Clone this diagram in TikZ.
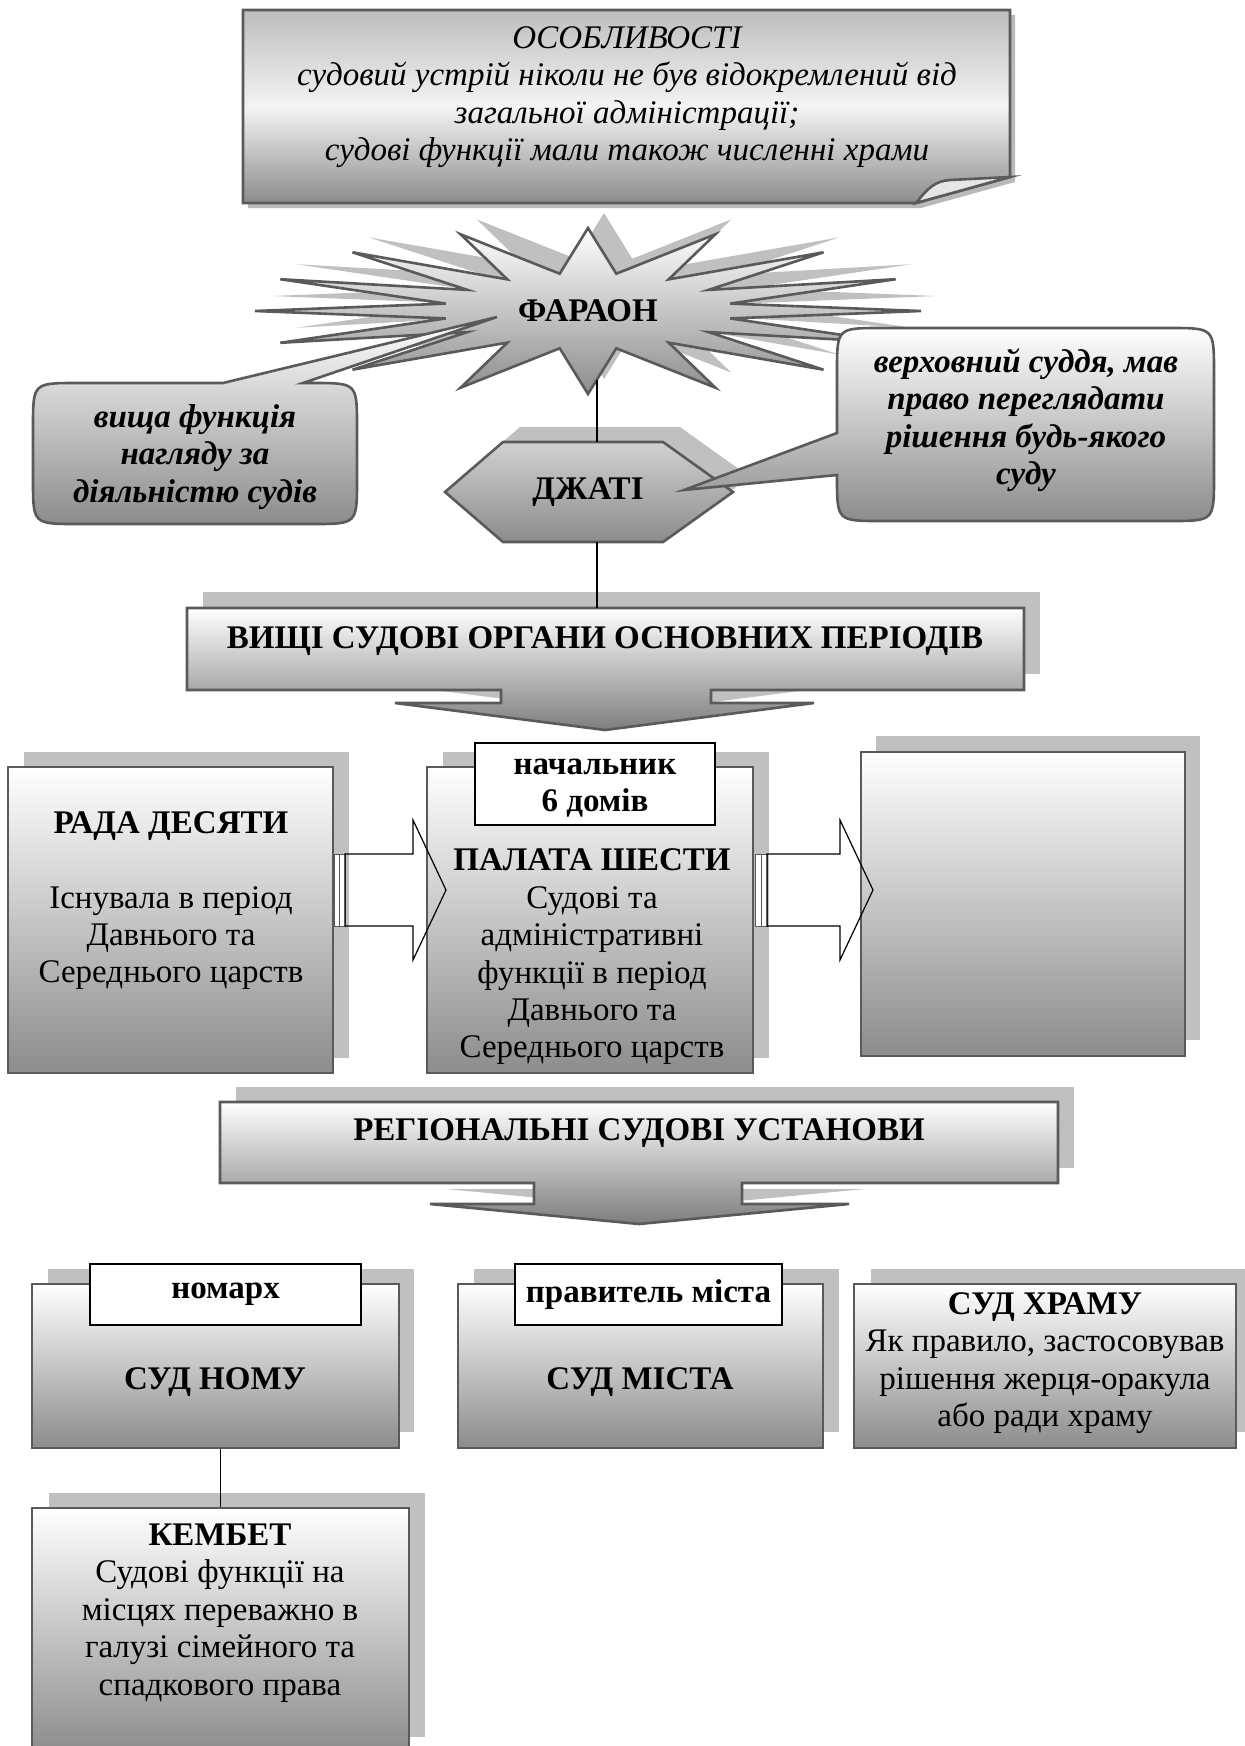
\documentclass[tikz,border=0pt]{standalone}
\usepackage{fontspec}
\setmainfont{Liberation Serif}
\usetikzlibrary{fit}
\definecolor{edge}{HTML}{5A5A5A}
\definecolor{shad}{HTML}{C0C0C0}
\definecolor{gbot}{HTML}{8C8C8C}
\definecolor{gmid}{HTML}{F4F4F4}
\definecolor{gtopd}{HTML}{BDBDBD}
\definecolor{foldc}{HTML}{E6E6E6}
\newcommand{\fs}{\fontsize{16.5pt}{18.7pt}\selectfont}
\tikzset{
  outl/.style={draw=edge, line width=1.3pt},
  grad/.style={top color=white, bottom color=gbot},
  gradmid/.style={top color=gtopd, bottom color=gbot, middle color=gmid},
  shadowfill/.style={fill=shad, draw=none},
  labelbox/.style={draw=black, fill=white, line width=0.7pt, inner sep=0pt},
  conn/.style={draw=black, line width=0.7pt},
  blockarrow/.style={draw=black, line width=0.6pt},
  stripe/.style={draw=gray!70!black, line width=0.45pt, fill=white},
  txt/.style={font=\fs, align=center, inner sep=0pt},
  btxt/.style={font=\fs\bfseries, align=center, inner sep=0pt},
  itxt/.style={font=\fs\itshape, align=center, inner sep=0pt},
  bitxt/.style={font=\fs\bfseries\itshape, align=center, inner sep=0pt},
  boxnode/.style={inner sep=0pt, outl, grad},
}
\begin{document}
\begin{tikzpicture}[x=0.5pt,y=-0.5pt]
\useasboundingbox (0,0) rectangle (1245,1746);

% ---------- top box with folded corner ----------
\fill[gray!55, shift={(5,5)}] (243,10) -- (1010,10) -- (1010,177) -- (916,203) -- (243,203) -- cycle;
\path[outl, gradmid] (243,10) -- (1010,10) -- (1010,177) -- (916,203) -- (243,203) -- cycle;
\path[outl, fill=foldc] (916,203) .. controls (928,188) and (935,181) .. (950,180) -- (1010,177) -- cycle;
\node[itxt] (osob) at (627,97) {ОСОБЛИВОСТІ\\судовий устрій ніколи не був відокремлений від\\загальної адміністрації;\\судові функції мали також численні храми};

% ---------- star (shadow + star) ----------
\fill[shad, shift={(604,296)}] (333,0) -- (142.2,-7.4) -- (307.7,-31.8) -- (120.6,-21.1) -- (235.5,-58.7) -- (80.6,-31.6) -- (127.4,-76.7) -- (28.3,-37.3) -- (0,-83) -- (-28.3,-37.3) -- (-127.4,-76.7) -- (-80.6,-31.6) -- (-235.5,-58.7) -- (-120.6,-21.1) -- (-307.7,-31.8) -- (-142.2,-7.4) -- (-333,0) -- (-142.2,7.4) -- (-307.7,31.8) -- (-120.6,21.1) -- (-235.5,58.7) -- (-80.6,31.6) -- (-127.4,76.7) -- (-28.3,37.3) -- (0,83) -- (28.3,37.3) -- (127.4,76.7) -- (80.6,31.6) -- (235.5,58.7) -- (120.6,21.1) -- (307.7,31.8) -- (142.2,7.4) -- cycle;
\path[outl, grad, shift={(588,311)}] (333,0) -- (142.2,-7.4) -- (307.7,-31.8) -- (120.6,-21.1) -- (235.5,-58.7) -- (80.6,-31.6) -- (127.4,-76.7) -- (28.3,-37.3) -- (0,-83) -- (-28.3,-37.3) -- (-127.4,-76.7) -- (-80.6,-31.6) -- (-235.5,-58.7) -- (-120.6,-21.1) -- (-307.7,-31.8) -- (-142.2,-7.4) -- (-333,0) -- (-142.2,7.4) -- (-307.7,31.8) -- (-120.6,21.1) -- (-235.5,58.7) -- (-80.6,31.6) -- (-127.4,76.7) -- (-28.3,37.3) -- (0,83) -- (28.3,37.3) -- (127.4,76.7) -- (80.6,31.6) -- (235.5,58.7) -- (120.6,21.1) -- (307.7,31.8) -- (142.2,7.4) -- cycle;
\node[btxt] (faraon) at (588,311) {ФАРАОН};
\coordinate (farb) at (597,380);

% ---------- ДЖАТІ hexagon ----------
\fill[shad, shift={(17,-15)}] (445,492) -- (503,442) -- (663,442) -- (733,492) -- (663,542) -- (503,542) -- cycle;
\path[outl, top color=gtopd!70!white, middle color=white, bottom color=gbot] (445,492) -- (503,442) -- (663,442) -- (733,492) -- (663,542) -- (503,542) -- cycle;
\node[btxt] (djati) at (588,492) {ДЖАТІ};
\coordinate (djt) at (597,442);
\coordinate (djb) at (597,542);
\draw[conn] (farb) -- (djt);

% ---------- left callout ----------
\path[outl, grad] (303,383) -- (497,317) -- (223,383) -- (77,383) .. controls (33,383) .. (33,427) -- (33,480) .. controls (33,524) .. (77,524) -- (313,524) .. controls (357,524) .. (357,480) -- (357,427) .. controls (357,383) .. (313,383) -- cycle;
\node[bitxt] (leftcall) at (195,457) {вища функція\\нагляду за\\діяльністю судів};

% ---------- right callout ----------
\path[outl, grad] (837,475) -- (684,490) -- (837,433) -- (837,372) .. controls (837,328) .. (881,328) -- (1170,328) .. controls (1214,328) .. (1214,372) -- (1214,477) .. controls (1214,521) .. (1170,521) -- (881,521) .. controls (837,521) .. (837,477) -- cycle;
\node[bitxt] (rightcall) at (1026,420) {верховний суддя, мав\\право переглядати\\рішення будь-якого\\суду};

% ---------- ВИЩІ СУДОВІ ОРГАНИ ----------
\fill[shad] (203,592) rectangle (1040,674);
\fill[shad] (411,687) -- (830,687) -- (621,714) -- cycle;
\path[outl, top color=white, bottom color=gbot!90!black] (187,608) -- (1024,608) -- (1024,690) -- (711,690) -- (711,703) -- (814,703) -- (605,730) -- (395,703) -- (501,703) -- (501,690) -- (187,690) -- cycle;
\node[btxt] (vyshchi) at (605,641) {ВИЩІ СУДОВІ ОРГАНИ ОСНОВНИХ ПЕРІОДІВ};
\coordinate (vyt) at (597,608);
\draw[conn] (djb) -- (vyt);

% ---------- row of three ----------
\fill[shad] (24,752) rectangle (349,1058);
\fill[shad] (443,752) rectangle (769,1058);
\fill[shad] (876,736) rectangle (1200,1040);
\node[boxnode, fit={(8,767) (333,1073)}] (rada) {};
\node[boxnode, fit={(427,767) (753,1073)}] (palata) {};
\node[boxnode, fit={(861,752) (1185,1056)}] (empty) {};
\node[labelbox, fit={(475,743) (715,825)}] (nachbox) {};
\node[btxt] (nach) at ([yshift=-2pt]nachbox.center) {начальник\\6 домів};
\node[btxt] (radat) at (171,826) {РАДА ДЕСЯТИ};
\node[txt] (radab) at (171,938) {Існувала в період\\Давнього та\\Середнього царств};
\node[txt] (palatat) at (592,957) {\bfseries ПАЛАТА ШЕСТИ\\Судові та\\адміністративні\\функції в період\\Давнього та\\Середнього царств};

% striped block arrows
\path[stripe] (334,854) rectangle (345,926);
\draw[stripe] (339.5,854) -- (339.5,926);
\draw[blockarrow] (345,854) -- (413,854) -- (413,820) -- (446,890) -- (413,960) -- (413,926) -- (345,926) -- cycle;
\path[stripe] (755,854) rectangle (767,926);
\draw[stripe] (761,854) -- (761,926);
\draw[blockarrow] (767,854) -- (840,854) -- (840,820) -- (873,890) -- (840,960) -- (840,926) -- (767,926) -- cycle;

% ---------- РЕГІОНАЛЬНІ ----------
\fill[shad] (236,1087) rectangle (1074,1168);
\fill[shad] (446,1189) -- (865,1189) -- (655,1209) -- cycle;
\path[outl, top color=white, bottom color=gbot!90!black] (220,1102) -- (1058,1102) -- (1058,1183) -- (742,1183) -- (742,1204) -- (849,1204) -- (639,1224) -- (430,1204) -- (534,1204) -- (534,1183) -- (220,1183) -- cycle;
\node[btxt] (region) at (639,1133) {РЕГІОНАЛЬНІ СУДОВІ УСТАНОВИ};

% ---------- bottom row ----------
\fill[shad] (48,1269) rectangle (414,1432);
\fill[shad] (474,1269) rectangle (839,1432);
\fill[shad] (871,1269) rectangle (1250,1432);
\fill[shad] (49,1493) rectangle (425,1737);
\node[boxnode, fit={(32,1284) (399,1448)}] (sudnomu) {};
\node[boxnode, fit={(458,1284) (823,1448)}] (sudmista) {};
\node[boxnode, fit={(854,1284) (1236,1448)}] (sudkhramu) {};
\node[boxnode, fit={(32,1508) (409,1752)}] (kembet) {};
\node[labelbox, fit={(90,1264) (361,1325)}] (nomarkhbox) {};
\node[labelbox, fit={(515,1264) (782,1325)}] (pravbox) {};
\node[btxt] (nomarkh) at (nomarkhbox.center) {номарх};
\node[btxt] (prav) at (pravbox.center) {правитель міста};
\node[btxt] (sudnomut) at (215,1382) {СУД НОМУ};
\node[btxt] (sudmistat) at (640,1382) {СУД МІСТА};
\node[txt] (sudkhramut) at (1045,1363) {\bfseries СУД ХРАМУ\\Як правило, застосовував\\рішення жерця-оракула\\або ради храму};
\node[txt] (kembett) at (220,1613) {\bfseries КЕМБЕТ\\Судові функції на\\місцях переважно в\\галузі сімейного та\\спадкового права};
\draw[conn] (sudnomu.south -| kembet.north) -- (kembet.north);
\end{tikzpicture}
\end{document}
